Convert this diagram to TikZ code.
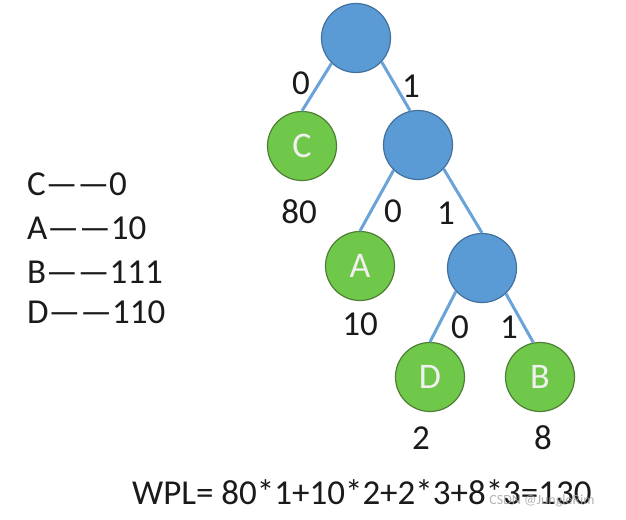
\documentclass[tikz,border=0pt]{standalone}
\usepackage{fontspec}
\setmainfont{Carlito}
\definecolor{nodeblue}{HTML}{5B9BD5}
\definecolor{blueedge}{HTML}{41719C}
\definecolor{nodegreen}{HTML}{70C84A}
\definecolor{greenedge}{HTML}{4E7F35}
\definecolor{linkblue}{HTML}{6AA3D8}
\definecolor{txt}{HTML}{1A1A1A}
\begin{document}
\begin{tikzpicture}[x=1pt,y=-1pt,
  inner/.style={circle,draw=blueedge,fill=nodeblue,line width=1.2pt,minimum size=69pt,inner sep=0pt},
  leaf/.style={circle,draw=greenedge,fill=nodegreen,line width=1.2pt,minimum size=69pt,inner sep=0pt,
    text=white!94!black,font=\fontsize{36}{40}\selectfont},
  link/.style={draw=linkblue,line width=3pt},
  lbl/.style={inner sep=0pt,text=txt,font=\fontsize{35}{40}\selectfont},
]
\useasboundingbox (0,0) rectangle (626,519);
\fill[white] (0,0) rectangle (626,519);

% nodes
\node[inner] (r) at (356,38) {};
\node[leaf] (c) at (302,146) {C};
\node[inner] (n1) at (418,145) {};
\node[leaf] (a) at (360,266) {A};
\node[inner] (n2) at (482,268) {};
\node[leaf] (d) at (430,377) {D};
\node[leaf] (b) at (540,377) {B};

% links
\draw[link] (r.226) -- (c.north);
\draw[link] (r.317) -- (n1.103);
\draw[link] (n1.226) -- (a.north);
\draw[link] (n1.317) -- (n2.north);
\draw[link] (n2.222) -- (d.north);
\draw[link] (n2.313) -- (b.101);

% edge labels
\node[lbl] (e1) at (301,83) {0};
\node[lbl] (e2) at (411,86) {1};
\node[lbl] (e3) at (393,211) {0};
\node[lbl] (e4) at (446,213) {1};
\node[lbl] (e5) at (460,327) {0};
\node[lbl] (e6) at (509,327) {1};

% weights
\node[lbl] (w1) at (299,212) {80};
\node[lbl] (w2) at (360,324) {10};
\node[lbl] (w3) at (421,438) {2};
\node[lbl] (w4) at (543,438) {8};

% code list
\node[lbl,anchor=west] (l1) at (27,184) {C——0};
\node[lbl,anchor=west] (l2) at (27,228) {A——10};
\node[lbl,anchor=west] (l3) at (27,272) {B——111};
\node[lbl,anchor=west] (l4) at (27,312) {D——110};

% formula
\node[lbl,anchor=west] (f) at (132,492) {WPL= 80*1+10*2+2*3+8*3=130};

% watermark
\node[inner sep=0pt,text=gray!70,opacity=0.85,font=\fontsize{14}{16}\selectfont] (wm) at (542,501) {CSDN @JungleRim};
\end{tikzpicture}
\end{document}
